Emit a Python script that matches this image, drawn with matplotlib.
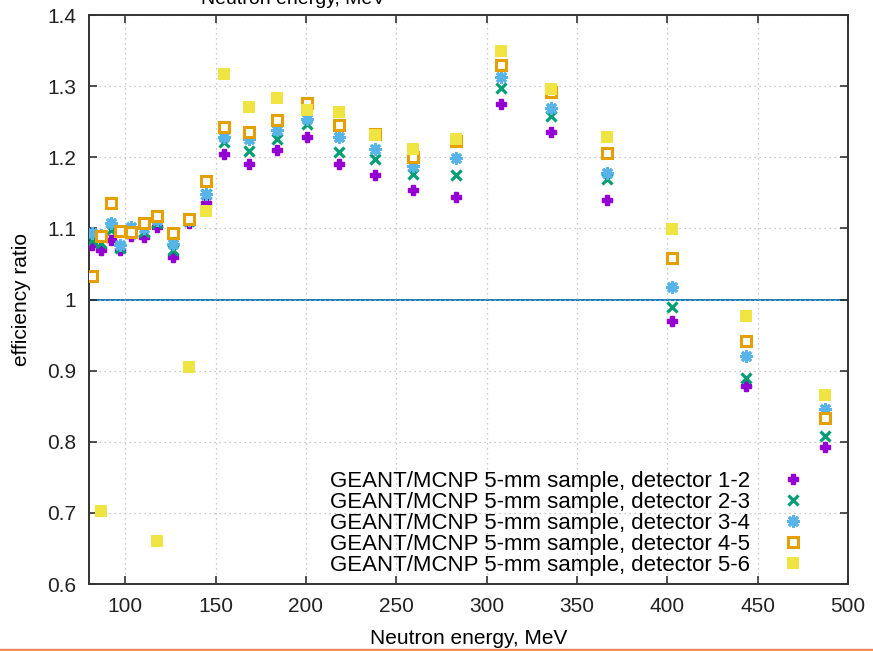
import numpy as np
import matplotlib
matplotlib.use("Agg")
import matplotlib.pyplot as plt
from matplotlib.lines import Line2D

plt.rcParams["font.family"] = ["Liberation Sans", "DejaVu Sans"]

#=================
# data
#=================
energy = [81.6, 86.6, 92.1, 97.3, 103.1, 110.2, 117.9, 126.5, 135.6, 144.8,
          154.7, 168.7, 183.8, 200.8, 218.2, 238.5, 259.1, 283.0, 308.1, 335.7,
          366.4, 402.4, 443.3, 487.1]

det_12 = [1.077, 1.070, 1.084, 1.069, 1.089, 1.088, 1.102, 1.060, 1.108, 1.135,
          1.204, 1.190, 1.210, 1.229, 1.190, 1.175, 1.154, 1.144, 1.275, 1.236,
          1.140, 0.970, 0.878, 0.793]

det_23 = [1.084, 1.080, 1.098, 1.073, 1.093, 1.095, 1.108, 1.069, 1.110, 1.148,
          1.222, 1.209, 1.226, 1.247, 1.208, 1.197, 1.177, 1.175, 1.298, 1.258,
          1.170, 0.990, 0.889, 0.808]

det_34 = [1.093, 1.090, 1.107, 1.076, 1.102, 1.100, 1.112, 1.078, 1.112, 1.149,
          1.228, 1.226, 1.239, 1.254, 1.228, 1.212, 1.188, 1.199, 1.313, 1.269,
          1.178, 1.017, 0.921, 0.846]

det_45 = [1.033, 1.089, 1.136, 1.097, 1.095, 1.108, 1.117, 1.094, 1.113, 1.167,
          1.243, 1.236, 1.252, 1.276, 1.245, 1.233, 1.200, 1.223, 1.330, 1.292,
          1.206, 1.058, 0.942, 0.833]

det_56 = [np.nan, 0.702, np.nan, np.nan, np.nan, np.nan, 0.660, np.nan, 0.905, 1.124,
          1.317, 1.270, 1.284, 1.266, 1.263, 1.231, 1.212, 1.226, 1.350, 1.296,
          1.228, 1.099, 0.977, 0.866]

labels = [
    "GEANT/MCNP 5-mm sample, detector 1-2",
    "GEANT/MCNP 5-mm sample, detector 2-3",
    "GEANT/MCNP 5-mm sample, detector 3-4",
    "GEANT/MCNP 5-mm sample, detector 4-5",
    "GEANT/MCNP 5-mm sample, detector 5-6",
]

x_ticks = [100, 150, 200, 250, 300, 350, 400, 450, 500]
y_ticks = [0.6, 0.7, 0.8, 0.9, 1.0, 1.1, 1.2, 1.3, 1.4]
y_tick_labels = ["0.6", "0.7", "0.8", "0.9", "1", "1.1", "1.2", "1.3", "1.4"]


#=================
# figure
#=================
fig = plt.figure(figsize=(8.73, 6.51), dpi=100)
ax = fig.add_axes([89 / 873, 67 / 651, 759 / 873, 569 / 651])

ax.axhline(1.0, color="#0072b2", lw=1.3, zorder=1)

ax.plot(energy, det_12, ls="none", marker="P", ms=7.5, color="#9400d3",
        mec="#9400d3", label=labels[0], zorder=3)
ax.plot(energy, det_23, ls="none", marker="x", ms=6.5, mew=2.3, color="#009e73",
        label=labels[1], zorder=3)
ax.plot(energy, det_34, ls="none", marker=(8, 2, 0), ms=9, mew=2.0, color="#56b4e9",
        label=labels[2], zorder=3)
ax.plot(energy, det_45, ls="none", marker="s", ms=7.5, mew=2.2, mfc="white",
        mec="#e69f00", label=labels[3], zorder=3)
ax.plot(energy, det_56, ls="none", marker="s", ms=8, mew=0, color="#f0e442",
        label=labels[4], zorder=3)

ax.set_xlim(80, 500)
ax.set_ylim(0.6, 1.4)
ax.set_xticks(x_ticks)
ax.set_yticks(y_ticks)
ax.set_yticklabels(y_tick_labels)

ax.grid(True, color="#b8b8b8", lw=0.9, ls=(0, (1, 3)))
ax.tick_params(direction="in", length=6, width=1.1, top=True, right=True,
               labelsize=15, pad=9, colors="#222222")
for s in ax.spines.values():
    s.set_linewidth(1.4)
    s.set_color("#333333")

ax.set_xlabel("Neutron energy, MeV", fontsize=15, labelpad=10)
ax.set_ylabel("efficiency ratio", fontsize=15, labelpad=12)

ax.legend(
    loc="lower right",
    bbox_to_anchor=(0.957, 0.014),
    frameon=False,
    markerfirst=False,
    fontsize=16,
    handlelength=2,
    handletextpad=0.95,
    labelspacing=0.0,
    borderpad=0,
    borderaxespad=0,
)

# clipped heading at the top, from the slide
fig.text(293 / 873, 1 - 4 / 651, "Neutron energy, MeV", fontsize=14,
         ha="center", va="baseline")

# thin orange rule at the bottom of the slide
fig.add_artist(Line2D([0, 1], [1.5 / 651, 1.5 / 651], color="#f08a62", lw=2.5,
                      transform=fig.transFigure))

fig.savefig("out.png", dpi=100)
